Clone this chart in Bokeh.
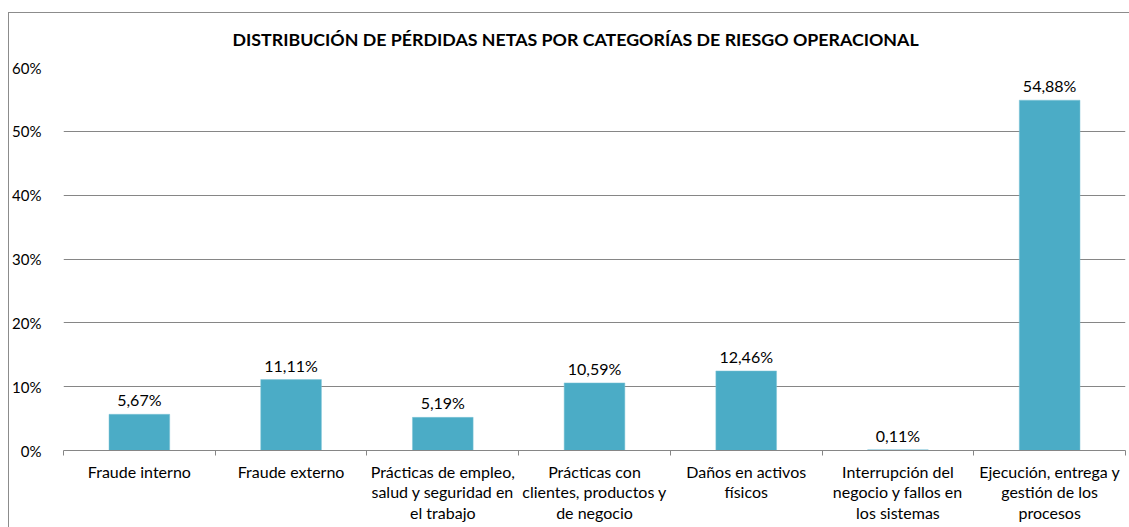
from bokeh.plotting import figure
from bokeh.models import FixedTicker, Range1d, ColumnDataSource, InlineStyleSheet
from bokeh.embed import file_html
from bokeh.resources import INLINE
from bokeh.core.properties import value

categories = [
    "Fraude interno",
    "Fraude externo",
    "Prácticas de empleo,\nsalud y seguridad en\nel trabajo",
    "Prácticas con\nclientes, productos y\nde negocio",
    "Daños en activos\nfísicos",
    "Interrupción del\nnegocio y fallos en\nlos sistemas",
    "Ejecución, entrega y\ngestión de los\nprocesos",
]
values = [5.67, 11.11, 5.19, 10.59, 12.46, 0.11, 54.88]
value_labels = ["5,67%", "11,11%", "5,19%", "10,59%", "12,46%", "0,11%", "54,88%"]
y_ticks = [0, 10, 20, 30, 40, 50, 60]
title_text = "DISTRIBUCIÓN DE PÉRDIDAS NETAS POR CATEGORÍAS DE RIESGO OPERACIONAL"

FONT = "Lato"
centers = [i + 0.5 for i in range(len(categories))]
source = ColumnDataSource(dict(x=centers, top=[v / 100 for v in values], lab=value_labels))

p = figure(width=1129, height=527, output_backend="svg", toolbar_location=None,
           x_range=Range1d(0, len(categories)), y_range=Range1d(0, 0.6),
           min_border_left=63, min_border_right=4, min_border_top=67, min_border_bottom=77)
p.outline_line_color = None
p.background_fill_color = "white"
p.border_fill_color = "white"

# outer chart border (left and top edges visible in the reference)
p.stylesheets = [InlineStyleSheet(css=(
    ":host::after { content: ''; position: absolute; left: 8px; top: 12px; "
    "right: 0px; bottom: 0px; border-left: 1px solid #8c8c8c; "
    "border-top: 1px solid #8c8c8c; pointer-events: none; }"
))]

p.title.text = title_text
p.title.align = "left"
p.title.offset = 169
p.title.standoff = 36
p.title.text_font = FONT
p.title.text_font_style = "bold"
p.title.text_font_size = "17.8px"
p.title.text_color = "#000000"

p.vbar(x="x", top="top", width=0.4, bottom=0, source=source,
       fill_color="#4BACC6", line_color="#7FC4D6", line_width=0.5)
p.text(x="x", y="top", text="lab", source=source, text_align="center",
       text_baseline="bottom", y_offset=-5, text_font=value(FONT),
       text_font_size="16px", text_color="#000000")

# y axis
p.yaxis.ticker = FixedTicker(ticks=[t / 100 for t in y_ticks])
p.yaxis.major_label_overrides = {t / 100: f"{t}%" for t in y_ticks}
p.yaxis.axis_line_color = None
p.yaxis.major_tick_line_color = None
p.yaxis.minor_tick_line_color = None
p.yaxis.major_label_standoff = 16
p.yaxis.major_label_text_font = FONT
p.yaxis.major_label_text_font_size = "15px"
p.yaxis.major_label_text_color = "#000000"

# x axis
p.xaxis.ticker = FixedTicker(ticks=centers, minor_ticks=list(range(len(categories) + 1)))
p.xaxis.major_label_overrides = {c: lab for c, lab in zip(centers, categories)}
p.xaxis.axis_line_color = "#868686"
p.xaxis.major_tick_line_color = None
p.xaxis.major_tick_out = 0
p.xaxis.major_tick_in = 0
p.xaxis.minor_tick_line_color = "#868686"
p.xaxis.minor_tick_out = 5
p.xaxis.minor_tick_in = 0
p.xaxis.major_label_standoff = 6
p.xaxis.major_label_text_font = FONT
p.xaxis.major_label_text_font_size = "16px"
p.xaxis.major_label_text_color = "#000000"
p.xaxis.major_label_text_line_height = 1.1

p.xgrid.grid_line_color = None
p.ygrid.grid_line_color = "#868686"
p.ygrid.grid_line_width = 1

open("out.html", "w").write(file_html(p, INLINE))
